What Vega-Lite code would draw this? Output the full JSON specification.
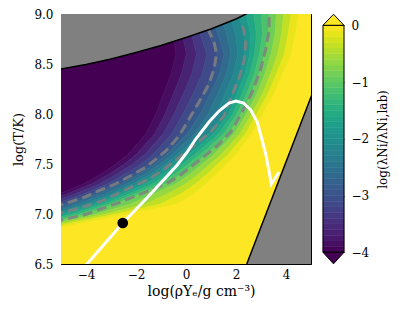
{
"$schema":"https://vega.github.io/schema/vega-lite/v6.json",
"background":"white",
"autosize":{"type":"pad"},
"padding":{"left":12,"top":7,"right":2,"bottom":2},
"spacing":12,
"bounds":"flush",
"datasets":{
"bands":[
{"y":6.5,"a":-20,"b":-16,"v":-4},{"y":6.5,"a":-16,"b":6,"v":0},
{"y":6.8,"a":-20,"b":-6.35,"v":-4},{"y":6.8,"a":-6.35,"b":-6.35,"v":-3.875},{"y":6.8,"a":-6.35,"b":-6.35,"v":-3.625},{"y":6.8,"a":-6.35,"b":-6.35,"v":-3.375},{"y":6.8,"a":-6.35,"b":-6.35,"v":-3.125},{"y":6.8,"a":-6.35,"b":-6.35,"v":-2.875},{"y":6.8,"a":-6.35,"b":-6.35,"v":-2.625},{"y":6.8,"a":-6.35,"b":-6.35,"v":-2.375},{"y":6.8,"a":-6.35,"b":-6.35,"v":-2.125},{"y":6.8,"a":-6.35,"b":-6.35,"v":-1.875},{"y":6.8,"a":-6.35,"b":-6.35,"v":-1.625},{"y":6.8,"a":-6.35,"b":-6.35,"v":-1.375},{"y":6.8,"a":-6.35,"b":-6.35,"v":-1.125},{"y":6.8,"a":-6.35,"b":-6.35,"v":-0.875},{"y":6.8,"a":-6.35,"b":-6.35,"v":-0.625},{"y":6.8,"a":-6.35,"b":-6.35,"v":-0.375},{"y":6.8,"a":-6.35,"b":-6.35,"v":-0.125},{"y":6.8,"a":-6.35,"b":6,"v":0},
{"y":6.9,"a":-20,"b":-9,"v":-4},{"y":6.9,"a":-9,"b":-8.575,"v":-3.875},{"y":6.9,"a":-8.575,"b":-8.15,"v":-3.625},{"y":6.9,"a":-8.15,"b":-7.725,"v":-3.375},{"y":6.9,"a":-7.725,"b":-7.3,"v":-3.125},{"y":6.9,"a":-7.3,"b":-7.125,"v":-2.875},{"y":6.9,"a":-7.125,"b":-6.95,"v":-2.625},{"y":6.9,"a":-6.95,"b":-6.775,"v":-2.375},{"y":6.9,"a":-6.775,"b":-6.6,"v":-2.125},{"y":6.9,"a":-6.6,"b":-6.38,"v":-1.875},{"y":6.9,"a":-6.38,"b":-6.16,"v":-1.625},{"y":6.9,"a":-6.16,"b":-5.94,"v":-1.375},{"y":6.9,"a":-5.94,"b":-5.72,"v":-1.125},{"y":6.9,"a":-5.72,"b":-5.395,"v":-0.875},{"y":6.9,"a":-5.395,"b":-5.07,"v":-0.625},{"y":6.9,"a":-5.07,"b":-4.745,"v":-0.375},{"y":6.9,"a":-4.745,"b":-4.42,"v":-0.125},{"y":6.9,"a":-4.42,"b":6,"v":0},
{"y":7.0,"a":-20,"b":-7.5,"v":-4},{"y":7.0,"a":-7.5,"b":-7.15,"v":-3.875},{"y":7.0,"a":-7.15,"b":-6.8,"v":-3.625},{"y":7.0,"a":-6.8,"b":-6.45,"v":-3.375},{"y":7.0,"a":-6.45,"b":-6.1,"v":-3.125},{"y":7.0,"a":-6.1,"b":-5.863,"v":-2.875},{"y":7.0,"a":-5.863,"b":-5.625,"v":-2.625},{"y":7.0,"a":-5.625,"b":-5.388,"v":-2.375},{"y":7.0,"a":-5.388,"b":-5.15,"v":-2.125},{"y":7.0,"a":-5.15,"b":-4.855,"v":-1.875},{"y":7.0,"a":-4.855,"b":-4.56,"v":-1.625},{"y":7.0,"a":-4.56,"b":-4.265,"v":-1.375},{"y":7.0,"a":-4.265,"b":-3.97,"v":-1.125},{"y":7.0,"a":-3.97,"b":-3.583,"v":-0.875},{"y":7.0,"a":-3.583,"b":-3.195,"v":-0.625},{"y":7.0,"a":-3.195,"b":-2.808,"v":-0.375},{"y":7.0,"a":-2.808,"b":-2.42,"v":-0.125},{"y":7.0,"a":-2.42,"b":6,"v":0},
{"y":7.1,"a":-20,"b":-6.2,"v":-4},{"y":7.1,"a":-6.2,"b":-5.875,"v":-3.875},{"y":7.1,"a":-5.875,"b":-5.55,"v":-3.625},{"y":7.1,"a":-5.55,"b":-5.225,"v":-3.375},{"y":7.1,"a":-5.225,"b":-4.9,"v":-3.125},{"y":7.1,"a":-4.9,"b":-4.613,"v":-2.875},{"y":7.1,"a":-4.613,"b":-4.325,"v":-2.625},{"y":7.1,"a":-4.325,"b":-4.038,"v":-2.375},{"y":7.1,"a":-4.038,"b":-3.75,"v":-2.125},{"y":7.1,"a":-3.75,"b":-3.52,"v":-1.875},{"y":7.1,"a":-3.52,"b":-3.29,"v":-1.625},{"y":7.1,"a":-3.29,"b":-3.06,"v":-1.375},{"y":7.1,"a":-3.06,"b":-2.83,"v":-1.125},{"y":7.1,"a":-2.83,"b":-2.223,"v":-0.875},{"y":7.1,"a":-2.223,"b":-1.615,"v":-0.625},{"y":7.1,"a":-1.615,"b":-1.008,"v":-0.375},{"y":7.1,"a":-1.008,"b":-0.4,"v":-0.125},{"y":7.1,"a":-0.4,"b":6,"v":0},
{"y":7.2,"a":-20,"b":-5.1,"v":-4},{"y":7.2,"a":-5.1,"b":-4.77,"v":-3.875},{"y":7.2,"a":-4.77,"b":-4.44,"v":-3.625},{"y":7.2,"a":-4.44,"b":-4.11,"v":-3.375},{"y":7.2,"a":-4.11,"b":-3.78,"v":-3.125},{"y":7.2,"a":-3.78,"b":-3.523,"v":-2.875},{"y":7.2,"a":-3.523,"b":-3.265,"v":-2.625},{"y":7.2,"a":-3.265,"b":-3.008,"v":-2.375},{"y":7.2,"a":-3.008,"b":-2.75,"v":-2.125},{"y":7.2,"a":-2.75,"b":-2.518,"v":-1.875},{"y":7.2,"a":-2.518,"b":-2.285,"v":-1.625},{"y":7.2,"a":-2.285,"b":-2.053,"v":-1.375},{"y":7.2,"a":-2.053,"b":-1.82,"v":-1.125},{"y":7.2,"a":-1.82,"b":-1.285,"v":-0.875},{"y":7.2,"a":-1.285,"b":-0.75,"v":-0.625},{"y":7.2,"a":-0.75,"b":-0.215,"v":-0.375},{"y":7.2,"a":-0.215,"b":0.32,"v":-0.125},{"y":7.2,"a":0.32,"b":6,"v":0},
{"y":7.3,"a":-20,"b":-4.1,"v":-4},{"y":7.3,"a":-4.1,"b":-3.783,"v":-3.875},{"y":7.3,"a":-3.783,"b":-3.465,"v":-3.625},{"y":7.3,"a":-3.465,"b":-3.148,"v":-3.375},{"y":7.3,"a":-3.148,"b":-2.83,"v":-3.125},{"y":7.3,"a":-2.83,"b":-2.6,"v":-2.875},{"y":7.3,"a":-2.6,"b":-2.37,"v":-2.625},{"y":7.3,"a":-2.37,"b":-2.14,"v":-2.375},{"y":7.3,"a":-2.14,"b":-1.91,"v":-2.125},{"y":7.3,"a":-1.91,"b":-1.635,"v":-1.875},{"y":7.3,"a":-1.635,"b":-1.36,"v":-1.625},{"y":7.3,"a":-1.36,"b":-1.085,"v":-1.375},{"y":7.3,"a":-1.085,"b":-0.81,"v":-1.125},{"y":7.3,"a":-0.81,"b":-0.415,"v":-0.875},{"y":7.3,"a":-0.415,"b":-0.02,"v":-0.625},{"y":7.3,"a":-0.02,"b":0.375,"v":-0.375},{"y":7.3,"a":0.375,"b":0.77,"v":-0.125},{"y":7.3,"a":0.77,"b":6,"v":0},
{"y":7.4,"a":-20,"b":-3.4,"v":-4},{"y":7.4,"a":-3.4,"b":-3.073,"v":-3.875},{"y":7.4,"a":-3.073,"b":-2.745,"v":-3.625},{"y":7.4,"a":-2.745,"b":-2.418,"v":-3.375},{"y":7.4,"a":-2.418,"b":-2.09,"v":-3.125},{"y":7.4,"a":-2.09,"b":-1.858,"v":-2.875},{"y":7.4,"a":-1.858,"b":-1.625,"v":-2.625},{"y":7.4,"a":-1.625,"b":-1.393,"v":-2.375},{"y":7.4,"a":-1.393,"b":-1.16,"v":-2.125},{"y":7.4,"a":-1.16,"b":-0.915,"v":-1.875},{"y":7.4,"a":-0.915,"b":-0.67,"v":-1.625},{"y":7.4,"a":-0.67,"b":-0.425,"v":-1.375},{"y":7.4,"a":-0.425,"b":-0.18,"v":-1.125},{"y":7.4,"a":-0.18,"b":0.165,"v":-0.875},{"y":7.4,"a":0.165,"b":0.51,"v":-0.625},{"y":7.4,"a":0.51,"b":0.855,"v":-0.375},{"y":7.4,"a":0.855,"b":1.2,"v":-0.125},{"y":7.4,"a":1.2,"b":6,"v":0},
{"y":7.5,"a":-20,"b":-2.8,"v":-4},{"y":7.5,"a":-2.8,"b":-2.463,"v":-3.875},{"y":7.5,"a":-2.463,"b":-2.125,"v":-3.625},{"y":7.5,"a":-2.125,"b":-1.788,"v":-3.375},{"y":7.5,"a":-1.788,"b":-1.45,"v":-3.125},{"y":7.5,"a":-1.45,"b":-1.24,"v":-2.875},{"y":7.5,"a":-1.24,"b":-1.03,"v":-2.625},{"y":7.5,"a":-1.03,"b":-0.82,"v":-2.375},{"y":7.5,"a":-0.82,"b":-0.61,"v":-2.125},{"y":7.5,"a":-0.61,"b":-0.373,"v":-1.875},{"y":7.5,"a":-0.373,"b":-0.135,"v":-1.625},{"y":7.5,"a":-0.135,"b":0.103,"v":-1.375},{"y":7.5,"a":0.103,"b":0.34,"v":-1.125},{"y":7.5,"a":0.34,"b":0.655,"v":-0.875},{"y":7.5,"a":0.655,"b":0.97,"v":-0.625},{"y":7.5,"a":0.97,"b":1.285,"v":-0.375},{"y":7.5,"a":1.285,"b":1.6,"v":-0.125},{"y":7.5,"a":1.6,"b":6,"v":0},
{"y":7.6,"a":-20,"b":-2.3,"v":-4},{"y":7.6,"a":-2.3,"b":-1.965,"v":-3.875},{"y":7.6,"a":-1.965,"b":-1.63,"v":-3.625},{"y":7.6,"a":-1.63,"b":-1.295,"v":-3.375},{"y":7.6,"a":-1.295,"b":-0.96,"v":-3.125},{"y":7.6,"a":-0.96,"b":-0.745,"v":-2.875},{"y":7.6,"a":-0.745,"b":-0.53,"v":-2.625},{"y":7.6,"a":-0.53,"b":-0.315,"v":-2.375},{"y":7.6,"a":-0.315,"b":-0.1,"v":-2.125},{"y":7.6,"a":-0.1,"b":0.138,"v":-1.875},{"y":7.6,"a":0.138,"b":0.375,"v":-1.625},{"y":7.6,"a":0.375,"b":0.613,"v":-1.375},{"y":7.6,"a":0.613,"b":0.85,"v":-1.125},{"y":7.6,"a":0.85,"b":1.138,"v":-0.875},{"y":7.6,"a":1.138,"b":1.425,"v":-0.625},{"y":7.6,"a":1.425,"b":1.713,"v":-0.375},{"y":7.6,"a":1.713,"b":2,"v":-0.125},{"y":7.6,"a":2,"b":6,"v":0},
{"y":7.8,"a":-20,"b":-1.6,"v":-4},{"y":7.8,"a":-1.6,"b":-1.258,"v":-3.875},{"y":7.8,"a":-1.258,"b":-0.915,"v":-3.625},{"y":7.8,"a":-0.915,"b":-0.573,"v":-3.375},{"y":7.8,"a":-0.573,"b":-0.23,"v":-3.125},{"y":7.8,"a":-0.23,"b":0.053,"v":-2.875},{"y":7.8,"a":0.053,"b":0.335,"v":-2.625},{"y":7.8,"a":0.335,"b":0.618,"v":-2.375},{"y":7.8,"a":0.618,"b":0.9,"v":-2.125},{"y":7.8,"a":0.9,"b":1.103,"v":-1.875},{"y":7.8,"a":1.103,"b":1.305,"v":-1.625},{"y":7.8,"a":1.305,"b":1.508,"v":-1.375},{"y":7.8,"a":1.508,"b":1.71,"v":-1.125},{"y":7.8,"a":1.71,"b":1.933,"v":-0.875},{"y":7.8,"a":1.933,"b":2.155,"v":-0.625},{"y":7.8,"a":2.155,"b":2.378,"v":-0.375},{"y":7.8,"a":2.378,"b":2.6,"v":-0.125},{"y":7.8,"a":2.6,"b":6,"v":0},
{"y":8.0,"a":-20,"b":-1.2,"v":-4},{"y":8.0,"a":-1.2,"b":-0.84,"v":-3.875},{"y":8.0,"a":-0.84,"b":-0.48,"v":-3.625},{"y":8.0,"a":-0.48,"b":-0.12,"v":-3.375},{"y":8.0,"a":-0.12,"b":0.24,"v":-3.125},{"y":8.0,"a":0.24,"b":0.568,"v":-2.875},{"y":8.0,"a":0.568,"b":0.895,"v":-2.625},{"y":8.0,"a":0.895,"b":1.223,"v":-2.375},{"y":8.0,"a":1.223,"b":1.55,"v":-2.125},{"y":8.0,"a":1.55,"b":1.713,"v":-1.875},{"y":8.0,"a":1.713,"b":1.875,"v":-1.625},{"y":8.0,"a":1.875,"b":2.038,"v":-1.375},{"y":8.0,"a":2.038,"b":2.2,"v":-1.125},{"y":8.0,"a":2.2,"b":2.413,"v":-0.875},{"y":8.0,"a":2.413,"b":2.625,"v":-0.625},{"y":8.0,"a":2.625,"b":2.838,"v":-0.375},{"y":8.0,"a":2.838,"b":3.05,"v":-0.125},{"y":8.0,"a":3.05,"b":6,"v":0},
{"y":8.2,"a":-20,"b":-0.9,"v":-4},{"y":8.2,"a":-0.9,"b":-0.505,"v":-3.875},{"y":8.2,"a":-0.505,"b":-0.11,"v":-3.625},{"y":8.2,"a":-0.11,"b":0.285,"v":-3.375},{"y":8.2,"a":0.285,"b":0.68,"v":-3.125},{"y":8.2,"a":0.68,"b":0.975,"v":-2.875},{"y":8.2,"a":0.975,"b":1.27,"v":-2.625},{"y":8.2,"a":1.27,"b":1.565,"v":-2.375},{"y":8.2,"a":1.565,"b":1.86,"v":-2.125},{"y":8.2,"a":1.86,"b":2.048,"v":-1.875},{"y":8.2,"a":2.048,"b":2.235,"v":-1.625},{"y":8.2,"a":2.235,"b":2.423,"v":-1.375},{"y":8.2,"a":2.423,"b":2.61,"v":-1.125},{"y":8.2,"a":2.61,"b":2.833,"v":-0.875},{"y":8.2,"a":2.833,"b":3.055,"v":-0.625},{"y":8.2,"a":3.055,"b":3.278,"v":-0.375},{"y":8.2,"a":3.278,"b":3.5,"v":-0.125},{"y":8.2,"a":3.5,"b":6,"v":0},
{"y":8.4,"a":-20,"b":-0.6,"v":-4},{"y":8.4,"a":-0.6,"b":-0.185,"v":-3.875},{"y":8.4,"a":-0.185,"b":0.23,"v":-3.625},{"y":8.4,"a":0.23,"b":0.645,"v":-3.375},{"y":8.4,"a":0.645,"b":1.06,"v":-3.125},{"y":8.4,"a":1.06,"b":1.338,"v":-2.875},{"y":8.4,"a":1.338,"b":1.615,"v":-2.625},{"y":8.4,"a":1.615,"b":1.893,"v":-2.375},{"y":8.4,"a":1.893,"b":2.17,"v":-2.125},{"y":8.4,"a":2.17,"b":2.358,"v":-1.875},{"y":8.4,"a":2.358,"b":2.545,"v":-1.625},{"y":8.4,"a":2.545,"b":2.733,"v":-1.375},{"y":8.4,"a":2.733,"b":2.92,"v":-1.125},{"y":8.4,"a":2.92,"b":3.153,"v":-0.875},{"y":8.4,"a":3.153,"b":3.385,"v":-0.625},{"y":8.4,"a":3.385,"b":3.618,"v":-0.375},{"y":8.4,"a":3.618,"b":3.85,"v":-0.125},{"y":8.4,"a":3.85,"b":6,"v":0},
{"y":8.6,"a":-20,"b":-0.4,"v":-4},{"y":8.6,"a":-0.4,"b":0.013,"v":-3.875},{"y":8.6,"a":0.013,"b":0.425,"v":-3.625},{"y":8.6,"a":0.425,"b":0.838,"v":-3.375},{"y":8.6,"a":0.838,"b":1.25,"v":-3.125},{"y":8.6,"a":1.25,"b":1.525,"v":-2.875},{"y":8.6,"a":1.525,"b":1.8,"v":-2.625},{"y":8.6,"a":1.8,"b":2.075,"v":-2.375},{"y":8.6,"a":2.075,"b":2.35,"v":-2.125},{"y":8.6,"a":2.35,"b":2.548,"v":-1.875},{"y":8.6,"a":2.548,"b":2.745,"v":-1.625},{"y":8.6,"a":2.745,"b":2.943,"v":-1.375},{"y":8.6,"a":2.943,"b":3.14,"v":-1.125},{"y":8.6,"a":3.14,"b":3.405,"v":-0.875},{"y":8.6,"a":3.405,"b":3.67,"v":-0.625},{"y":8.6,"a":3.67,"b":3.935,"v":-0.375},{"y":8.6,"a":3.935,"b":4.2,"v":-0.125},{"y":8.6,"a":4.2,"b":6,"v":0},
{"y":8.8,"a":-20,"b":-0.5,"v":-4},{"y":8.8,"a":-0.5,"b":-0.145,"v":-3.875},{"y":8.8,"a":-0.145,"b":0.21,"v":-3.625},{"y":8.8,"a":0.21,"b":0.565,"v":-3.375},{"y":8.8,"a":0.565,"b":0.92,"v":-3.125},{"y":8.8,"a":0.92,"b":1.275,"v":-2.875},{"y":8.8,"a":1.275,"b":1.63,"v":-2.625},{"y":8.8,"a":1.63,"b":1.985,"v":-2.375},{"y":8.8,"a":1.985,"b":2.34,"v":-2.125},{"y":8.8,"a":2.34,"b":2.58,"v":-1.875},{"y":8.8,"a":2.58,"b":2.82,"v":-1.625},{"y":8.8,"a":2.82,"b":3.06,"v":-1.375},{"y":8.8,"a":3.06,"b":3.3,"v":-1.125},{"y":8.8,"a":3.3,"b":3.563,"v":-0.875},{"y":8.8,"a":3.563,"b":3.825,"v":-0.625},{"y":8.8,"a":3.825,"b":4.088,"v":-0.375},{"y":8.8,"a":4.088,"b":4.35,"v":-0.125},{"y":8.8,"a":4.35,"b":6,"v":0},
{"y":9.0,"a":-20,"b":-0.8,"v":-4},{"y":9.0,"a":-0.8,"b":-0.45,"v":-3.875},{"y":9.0,"a":-0.45,"b":-0.1,"v":-3.625},{"y":9.0,"a":-0.1,"b":0.25,"v":-3.375},{"y":9.0,"a":0.25,"b":0.6,"v":-3.125},{"y":9.0,"a":0.6,"b":0.975,"v":-2.875},{"y":9.0,"a":0.975,"b":1.35,"v":-2.625},{"y":9.0,"a":1.35,"b":1.725,"v":-2.375},{"y":9.0,"a":1.725,"b":2.1,"v":-2.125},{"y":9.0,"a":2.1,"b":2.405,"v":-1.875},{"y":9.0,"a":2.405,"b":2.71,"v":-1.625},{"y":9.0,"a":2.71,"b":3.015,"v":-1.375},{"y":9.0,"a":3.015,"b":3.32,"v":-1.125},{"y":9.0,"a":3.32,"b":3.615,"v":-0.875},{"y":9.0,"a":3.615,"b":3.91,"v":-0.625},{"y":9.0,"a":3.91,"b":4.205,"v":-0.375},{"y":9.0,"a":4.205,"b":4.5,"v":-0.125},{"y":9.0,"a":4.5,"b":6,"v":0}
],
"contours":[
{"c":"A","x":-5.3,"y":7.07},{"c":"A","x":-4.81,"y":7.107},{"c":"A","x":-4.08,"y":7.167},{"c":"A","x":-3.48,"y":7.233},{"c":"A","x":-2.88,"y":7.293},{"c":"A","x":-2.21,"y":7.383},{"c":"A","x":-1.61,"y":7.467},{"c":"A","x":-0.81,"y":7.63},{"c":"A","x":-0.28,"y":7.78},{"c":"A","x":0.12,"y":7.95},{"c":"A","x":0.52,"y":8.12},{"c":"A","x":0.92,"y":8.3},{"c":"A","x":1.12,"y":8.45},{"c":"A","x":1.22,"y":8.6},{"c":"A","x":1.12,"y":8.72},{"c":"A","x":0.9,"y":8.84},
{"c":"B","x":-5.3,"y":6.99},{"c":"B","x":-4.81,"y":7.023},{"c":"B","x":-4.08,"y":7.073},{"c":"B","x":-3.41,"y":7.127},{"c":"B","x":-2.81,"y":7.193},{"c":"B","x":-2.21,"y":7.267},{"c":"B","x":-1.55,"y":7.34},{"c":"B","x":-0.95,"y":7.433},{"c":"B","x":0.0,"y":7.62},{"c":"B","x":0.99,"y":7.82},{"c":"B","x":1.52,"y":7.98},{"c":"B","x":1.79,"y":8.16},{"c":"B","x":2.12,"y":8.36},{"c":"B","x":2.32,"y":8.53},{"c":"B","x":2.39,"y":8.7},{"c":"B","x":2.32,"y":8.83},{"c":"B","x":2.19,"y":8.93},
{"c":"C","x":-5.3,"y":6.92},{"c":"C","x":-4.81,"y":6.95},{"c":"C","x":-4.08,"y":6.99},{"c":"C","x":-3.41,"y":7.05},{"c":"C","x":-2.75,"y":7.107},{"c":"C","x":-2.15,"y":7.167},{"c":"C","x":-1.48,"y":7.233},{"c":"C","x":-0.81,"y":7.3},{"c":"C","x":-0.35,"y":7.367},{"c":"C","x":0.19,"y":7.47},{"c":"C","x":0.65,"y":7.56},{"c":"C","x":1.25,"y":7.68},{"c":"C","x":1.79,"y":7.82},{"c":"C","x":2.25,"y":8.02},{"c":"C","x":2.65,"y":8.22},{"c":"C","x":2.99,"y":8.45},{"c":"C","x":3.19,"y":8.65},{"c":"C","x":3.32,"y":8.83},{"c":"C","x":3.33,"y":9.05}
],
"gtop":[{"x":-5.2,"y":8.44},{"x":-4,"y":8.495},{"x":-3,"y":8.55},{"x":-2,"y":8.615},{"x":-1,"y":8.685},{"x":0,"y":8.765},{"x":1,"y":8.85},{"x":2,"y":8.95},{"x":2.4,"y":9.0},{"x":2.6,"y":9.03}],
"gright":[{"x":2.43,"y":6.5},{"x":5,"y":8.17},{"x":5.2,"y":8.3}],
"white":[{"x":-4.1,"y":6.46},{"x":-2.53,"y":6.91},{"x":-1.6,"y":7.15},{"x":-0.9,"y":7.34},{"x":-0.35,"y":7.49},{"x":0.05,"y":7.62},{"x":0.39,"y":7.75},{"x":0.92,"y":7.92},{"x":1.32,"y":8.03},{"x":1.72,"y":8.11},{"x":2.0,"y":8.13},{"x":2.3,"y":8.11},{"x":2.59,"y":8.04},{"x":2.85,"y":7.92},{"x":3.0,"y":7.78},{"x":3.19,"y":7.6},{"x":3.32,"y":7.43},{"x":3.41,"y":7.3},{"x":3.72,"y":7.42}],
"dot":[{"x":-2.53,"y":6.91}],
"cb":[{"lo":-4,"hi":-3.9,"v":-3.95},{"lo":-3.9,"hi":-3.8,"v":-3.85},{"lo":-3.8,"hi":-3.7,"v":-3.75},{"lo":-3.7,"hi":-3.6,"v":-3.65},{"lo":-3.6,"hi":-3.5,"v":-3.55},{"lo":-3.5,"hi":-3.4,"v":-3.45},{"lo":-3.4,"hi":-3.3,"v":-3.35},{"lo":-3.3,"hi":-3.2,"v":-3.25},{"lo":-3.2,"hi":-3.1,"v":-3.15},{"lo":-3.1,"hi":-3.0,"v":-3.05},{"lo":-3.0,"hi":-2.9,"v":-2.95},{"lo":-2.9,"hi":-2.8,"v":-2.85},{"lo":-2.8,"hi":-2.7,"v":-2.75},{"lo":-2.7,"hi":-2.6,"v":-2.65},{"lo":-2.6,"hi":-2.5,"v":-2.55},{"lo":-2.5,"hi":-2.4,"v":-2.45},{"lo":-2.4,"hi":-2.3,"v":-2.35},{"lo":-2.3,"hi":-2.2,"v":-2.25},{"lo":-2.2,"hi":-2.1,"v":-2.15},{"lo":-2.1,"hi":-2.0,"v":-2.05},{"lo":-2.0,"hi":-1.9,"v":-1.95},{"lo":-1.9,"hi":-1.8,"v":-1.85},{"lo":-1.8,"hi":-1.7,"v":-1.75},{"lo":-1.7,"hi":-1.6,"v":-1.65},{"lo":-1.6,"hi":-1.5,"v":-1.55},{"lo":-1.5,"hi":-1.4,"v":-1.45},{"lo":-1.4,"hi":-1.3,"v":-1.35},{"lo":-1.3,"hi":-1.2,"v":-1.25},{"lo":-1.2,"hi":-1.1,"v":-1.15},{"lo":-1.1,"hi":-1.0,"v":-1.05},{"lo":-1.0,"hi":-0.9,"v":-0.95},{"lo":-0.9,"hi":-0.8,"v":-0.85},{"lo":-0.8,"hi":-0.7,"v":-0.75},{"lo":-0.7,"hi":-0.6,"v":-0.65},{"lo":-0.6,"hi":-0.5,"v":-0.55},{"lo":-0.5,"hi":-0.4,"v":-0.45},{"lo":-0.4,"hi":-0.3,"v":-0.35},{"lo":-0.3,"hi":-0.2,"v":-0.25},{"lo":-0.2,"hi":-0.1,"v":-0.15},{"lo":-0.1,"hi":0,"v":-0.05}],
"one":[{}]
},
"hconcat":[
{
"width":250,"height":250,
"resolve":{"axis":{"x":"independent","y":"independent"}},
"layer":[
{"data":{"name":"bands"},
 "mark":{"type":"area","orient":"horizontal","clip":true,"strokeWidth":0.7},
 "encoding":{
  "y":{"field":"y","type":"quantitative","scale":{"domain":[6.5,9],"nice":false,"zero":false},
       "axis":{"orient":"left","values":[6.5,7,7.5,8,8.5,9],"format":".1f","title":"log(T/K)","titlePadding":8,"labelPadding":13}},
  "x":{"field":"a","type":"quantitative","scale":{"domain":[-5,5],"nice":false,"zero":false},
       "axis":{"orient":"bottom","values":[-4,-2,0,2,4],"format":"d","title":"log(ρYₑ/g cm⁻³)","titlePadding":4,"titleFontSize":14,"titleX":140}},
  "x2":{"field":"b"},
  "detail":{"field":"v","type":"quantitative"},
  "color":{"field":"v","type":"quantitative","scale":{"scheme":"viridis","domain":[-4,0]},"legend":null},
  "stroke":{"field":"v","type":"quantitative","scale":{"scheme":"viridis","domain":[-4,0]},"legend":null}
 }},
{"data":{"name":"contours"},
 "mark":{"type":"line","clip":true,"color":"#808080","opacity":0.85,"strokeWidth":3,"strokeDash":[10,5]},
 "encoding":{
  "x":{"field":"x","type":"quantitative","axis":null},
  "y":{"field":"y","type":"quantitative","axis":null},
  "detail":{"field":"c","type":"nominal"},
  "order":{"value":null}
 }},
{"data":{"name":"gtop"},
 "mark":{"type":"area","clip":true,"color":"#808080","opacity":1},
 "encoding":{
  "x":{"field":"x","type":"quantitative","axis":null},
  "y":{"field":"y","type":"quantitative","axis":null},
  "y2":{"datum":9.2}
 }},
{"data":{"name":"gtop"},
 "mark":{"type":"line","clip":true,"color":"black","strokeWidth":1.5},
 "encoding":{
  "x":{"field":"x","type":"quantitative","axis":null},
  "y":{"field":"y","type":"quantitative","axis":null}
 }},
{"data":{"name":"gright"},
 "mark":{"type":"area","clip":true,"color":"#808080","opacity":1},
 "encoding":{
  "x":{"field":"x","type":"quantitative","axis":null},
  "y":{"field":"y","type":"quantitative","axis":null},
  "y2":{"datum":6.3}
 }},
{"data":{"name":"gright"},
 "mark":{"type":"line","clip":true,"color":"black","strokeWidth":1.5},
 "encoding":{
  "x":{"field":"x","type":"quantitative","axis":null},
  "y":{"field":"y","type":"quantitative","axis":null}
 }},
{"data":{"name":"white"},
 "mark":{"type":"line","clip":true,"color":"white","strokeWidth":3},
 "encoding":{
  "x":{"field":"x","type":"quantitative","axis":null},
  "y":{"field":"y","type":"quantitative","axis":null},
  "order":{"value":null}
 }},
{"data":{"name":"dot"},
 "mark":{"type":"point","filled":true,"color":"black","size":115,"opacity":1},
 "encoding":{
  "x":{"field":"x","type":"quantitative","axis":{"orient":"top","labels":false,"title":null,"values":[-4,-2,0,2,4]}},
  "y":{"field":"y","type":"quantitative","axis":{"orient":"right","labels":false,"title":null,"values":[6.5,7,7.5,8,8.5,9]}}
 }}
]
},
{
"width":21,"height":250,
"view":{"stroke":null},
"layer":[
{"data":{"name":"cb"},
 "mark":{"type":"rect","strokeWidth":0.5},
 "encoding":{
  "y":{"field":"lo","type":"quantitative","scale":{"domain":[-4.206,0.199],"nice":false,"zero":false},
       "axis":{"orient":"right","values":[-4,-3,-2,-1,0],"format":"d","tickSize":-4,"labelPadding":11,"title":"log(λNi/λNi,lab)","titleAngle":270,"titlePadding":21,"titleFontSize":12}},
  "y2":{"field":"hi"},
  "color":{"field":"v","type":"quantitative","scale":{"scheme":"viridis","domain":[-4,0]},"legend":null},
  "stroke":{"field":"v","type":"quantitative","scale":{"scheme":"viridis","domain":[-4,0]},"legend":null}
 }},
{"data":{"name":"one"},
 "mark":{"type":"rect","filled":false,"stroke":"black","strokeWidth":1},
 "encoding":{"y":{"datum":-4,"type":"quantitative"},"y2":{"datum":0}}},
{"data":{"name":"one"},
 "mark":{"type":"point","shape":"M-1,0L1,0L0,-1.05Z","size":441,"filled":true,"fill":"#fde725","stroke":"black","strokeWidth":1,"opacity":1},
 "encoding":{"y":{"datum":0,"type":"quantitative"}}},
{"data":{"name":"one"},
 "mark":{"type":"point","shape":"M-1,0L1,0L0,1.1Z","size":441,"filled":true,"fill":"#440154","stroke":"black","strokeWidth":1,"opacity":1},
 "encoding":{"y":{"datum":-4,"type":"quantitative"}}}
]
}
],
"config":{
 "view":{"stroke":"black","strokeWidth":1},
 "font":"DejaVu Serif",
 "axis":{"grid":false,"domain":false,"tickColor":"black","tickSize":-5,"tickWidth":1,"labelPadding":10,
  "labelFont":"DejaVu Serif","labelFontSize":12,"labelColor":"black",
  "titleFont":"DejaVu Serif","titleFontSize":13,"titleFontWeight":"normal","titleColor":"black"}
}
}
